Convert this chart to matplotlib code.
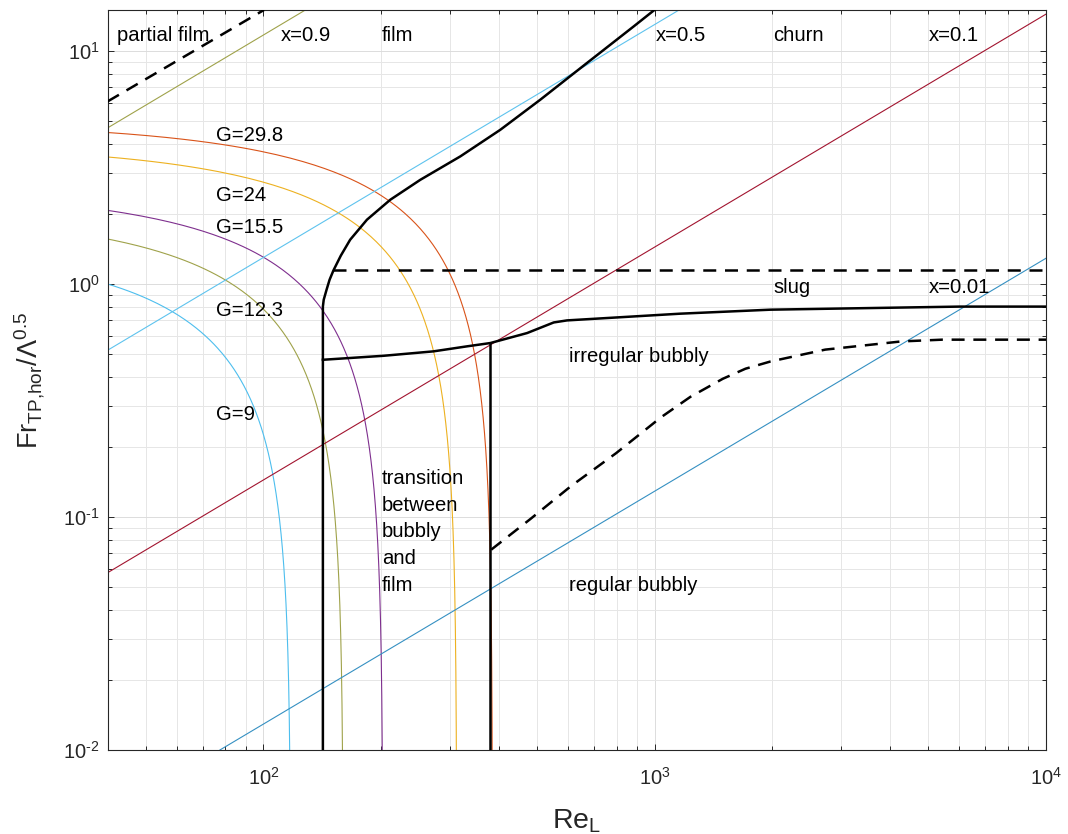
import numpy as np
import matplotlib
matplotlib.use("Agg")
import matplotlib.pyplot as plt
from matplotlib.ticker import LogLocator, NullFormatter, FuncFormatter

plt.rcParams['font.family'] = ['Liberation Sans', 'DejaVu Sans']
plt.rcParams['mathtext.fontset'] = 'custom'
plt.rcParams['mathtext.rm'] = 'Liberation Sans'
plt.rcParams['mathtext.it'] = 'Liberation Sans:italic'
plt.rcParams['mathtext.bf'] = 'Liberation Sans:bold'
plt.rcParams['axes.unicode_minus'] = False

# ---------------------------------------------------------------- data
re_lim = (40, 1e4)
fr_lim = (1e-2, 15)

# constant mass-flux curves: label value, Re_L where Fr -> 0, Fr at Re_L = 40
g_values = [9, 12.3, 15.5, 24, 29.8]
g_re_end = [117.5, 160, 202, 312, 385]
g_fr_left = [1.0, 1.56, 2.07, 3.51, 4.47]
g_colors = ['#4DBEEE', '#9FA24A', '#7E2F8E', '#EDB120', '#D95319']

# constant vapour-quality lines (entry / exit points on the frame)
quality_values = [0.9, 0.5, 0.1, 0.01]
quality_re = [(40, 128), (40, 1154), (40, 1e4), (77.4, 1e4)]
quality_fr = [(4.68, 15.0), (0.52, 15.0), (0.0577, 14.4), (0.01, 1.29)]
quality_colors = ['#9FA24A', '#5EC3EE', '#A2142F', '#3590C2']

# film / churn boundary (vertical part, then bending upwards)
film_re = [141.9, 141.9, 142.6, 145.0, 147.6, 151, 157.7, 166.6, 183.9,
           211, 251.7, 318.6, 403, 510, 671, 884, 998]
film_fr = [0.01, 0.80, 0.856, 0.945, 1.043, 1.144, 1.324, 1.549, 1.888,
           2.30, 2.80, 3.53, 4.59, 6.18, 8.88, 12.76, 15.0]

# slug / irregular bubbly boundary
slug_re = [141.9, 202.7, 272, 331, 380, 472, 552, 597, 1163, 1977, 6012, 1e4]
slug_fr = [0.473, 0.492, 0.514, 0.540, 0.558, 0.616, 0.684, 0.698, 0.746,
           0.776, 0.80, 0.80]

# transition bubbly/film right boundary
trans_re = [380, 380]
trans_fr = [0.01, 0.558]

# dashed boundaries
partial_re = [40, 100.3]
partial_fr = [6.08, 15.0]
churn_re = [151, 1e4]
churn_fr = [1.144, 1.144]
bubbly_re = [382, 481, 612, 797, 1038, 1234, 1493, 1706, 1976, 2729, 4267,
             5432, 1e4]
bubbly_fr = [0.0724, 0.098, 0.136, 0.188, 0.268, 0.328, 0.392, 0.433, 0.465,
             0.523, 0.567, 0.577, 0.577]

# ---------------------------------------------------------------- figure
fig = plt.figure(figsize=(10.68, 8.34), dpi=100)
ax = fig.add_axes([107.7 / 1068, 84 / 834, 938.3 / 1068, 740 / 834])
ax.set_xscale('log')
ax.set_yscale('log')
ax.set_xlim(*re_lim)
ax.set_ylim(*fr_lim)

# G = const curves: straight lines between the two intercepts in linear space
for a, f40, col in zip(g_re_end, g_fr_left, g_colors):
    fr = np.geomspace(fr_lim[0] * 0.5, f40 * 1.02, 400)
    re = a - fr * (a - re_lim[0]) / f40
    ax.plot(re, fr, color=col, lw=0.8, zorder=2)

for (r0, r1), (f0, f1), col in zip(quality_re, quality_fr, quality_colors):
    ax.plot([r0, r1], [f0, f1], color=col, lw=0.8, zorder=2)

thick = dict(color='black', lw=1.8, zorder=4, solid_joinstyle='round')
dashed = dict(color='black', lw=1.8, zorder=4, ls=(0, (5.2, 3.5)))
ax.plot(film_re, film_fr, **thick)
ax.plot(slug_re, slug_fr, **thick)
ax.plot(trans_re, trans_fr, **thick)
ax.plot(partial_re, partial_fr, **dashed)
ax.plot(churn_re, churn_fr, **dashed)
ax.plot(bubbly_re, bubbly_fr, **dashed)

# region and line labels
fs = 14.6
labels = [
    ('partial film', 42.2, 11.0), ('x=0.9', 111, 11.0), ('film', 201, 11.0),
    ('x=0.5', 1006, 11.0), ('churn', 2012, 11.0), ('x=0.1', 5012, 11.0),
    ('slug', 2012, 0.915), ('x=0.01', 5012, 0.915),
    ('irregular bubbly', 603, 0.461), ('regular bubbly', 603, 0.048),
]
g_label_fr = [0.262, 0.731, 1.655, 2.28, 4.09]
for g, fr in zip(g_values, g_label_fr):
    labels.append((f'G={g:g}', 75.5, fr))
for txt, x, y in labels:
    ax.text(x, y, txt, fontsize=fs, va='baseline', ha='left',
            color='black', zorder=5)
ax.text(201, 0.161, 'transition\nbetween\nbubbly\nand\nfilm', fontsize=fs,
        va='top', ha='left', linespacing=1.52, zorder=5)


def decade_label(value, pos):
    exponent = int(round(np.log10(value)))
    return r'$\mathdefault{10^{\text{%d}}}$' % exponent


# axes styling
ax.xaxis.set_major_locator(LogLocator(base=10, numticks=10))
ax.xaxis.set_minor_locator(LogLocator(base=10, subs=np.arange(2, 10), numticks=40))
ax.yaxis.set_major_locator(LogLocator(base=10, numticks=10))
ax.yaxis.set_minor_locator(LogLocator(base=10, subs=np.arange(2, 10), numticks=40))
ax.xaxis.set_major_formatter(FuncFormatter(decade_label))
ax.yaxis.set_major_formatter(FuncFormatter(decade_label))
ax.xaxis.set_minor_formatter(NullFormatter())
ax.yaxis.set_minor_formatter(NullFormatter())

ax.grid(True, which='major', color='#dcdcdc', lw=0.7)
ax.grid(True, which='minor', color='#e6e6e6', lw=0.7)
ax.set_axisbelow(True)

for sp in ax.spines.values():
    sp.set_color('#262626')
    sp.set_linewidth(0.8)
ax.tick_params(which='both', direction='in', top=True, right=True,
               color='#262626', labelcolor='#262626', width=0.7)
ax.tick_params(which='major', length=4.5, labelsize=14.5)
ax.tick_params(axis='x', which='major', pad=12)
ax.tick_params(axis='y', which='major', pad=6)
ax.tick_params(which='minor', length=2.6)

ax.set_xlabel(r'Re$_{\mathrm{L}}$', fontsize=20.5, color='#262626')
ax.set_ylabel(r'Fr$_{\mathrm{TP{,}hor}}$/Λ$^{\mathrm{0.5}}$', fontsize=19.5,
              color='#262626')
ax.xaxis.set_label_coords(0.5, -0.078)
ax.yaxis.set_label_coords(-0.0647, 0.5)

fig.savefig('out.png', dpi=100)
